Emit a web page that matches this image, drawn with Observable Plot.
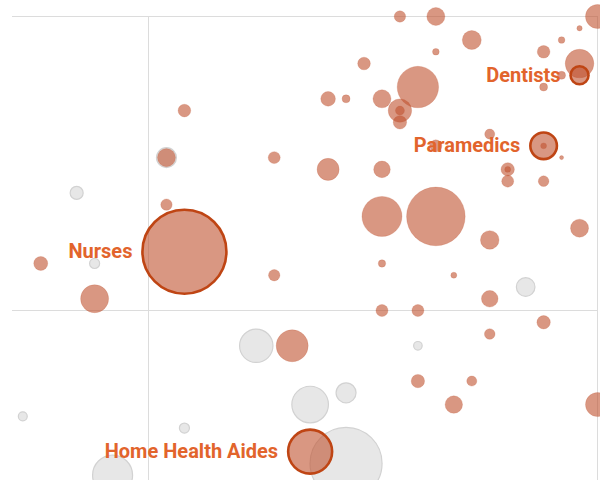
<!DOCTYPE html>
<html><head><meta charset="utf-8">
<script src="https://cdn.jsdelivr.net/npm/d3@7"></script>
<script src="https://cdn.jsdelivr.net/npm/@observablehq/plot@0.6"></script>
<style>body{margin:0;background:#fff;overflow:hidden}</style>
</head><body><div id="chart"></div>
<script>
// Health-care occupations (orange), exposure (x), proximity (y), workers in thousands (size)
const healthX    = [77,76,76,69,72,82,82,83,85,85,86,87,88,88,88,88,88,89,89,89,89,90,90,90,91,91,91,91,92,92,93,93,94,94,94,94,95,95,95,97,97,97,97,97,98,98,98,99,99,99,100,100];
const healthY    = [92,88,84,79,76,88,78,72,93,87,93,96,93,87,83,79,75,100,92,92,91,75,94,69,100,97,89,83,78,67,98,69,90,81,76,73,87,87,86,97,94,89,86,74,98,95,88,99,96,82,100,67];
const healthSize = [68,138,55,83,333,61,55,435,91,206,27,68,138,117,680,23,61,55,233,34,76,61,729,76,138,19,61,1460,15,129,153,43,43,147,117,48,76,15,61,68,27,15,48,76,19,27,7,12,348,138,245,245];

// Other occupations (grey)
const otherX    = [71,72,68,77,73,81,84,86,86,90,96,76];
const otherY    = [85,79,66,65,61,72,67,68,62,72,77,88];
const otherSize = [72,43,34,43,680,474,570,170,2204,31,147,170];

// Highlighted occupations
const labelNames = ["Nurses","Home Health Aides","Paramedics","Dentists"];
const labelX     = [77,84,97,99];
const labelY     = [80,63,89,95];
const labelSize  = [3000,823,301,138];

const health = healthX.map((x,i)=>({x, y: healthY[i], size: healthSize[i]}));
const other = otherX.map((x,i)=>({x, y: otherY[i], size: otherSize[i]}));
const labeled = labelNames.map((name,i)=>({name, x: labelX[i], y: labelY[i], size: labelSize[i]}));

const rDomain = [0, 3000], rRange = [0, 42];
const rS = d3.scaleSqrt().domain(rDomain).range(rRange);

const orange = "#c0522f";
const labelColor = "#e2642c";
const ringColor = "#bf4514";

const textMarks = labeled.map(d => Plot.text([d], {
  x: "x", y: "y", text: "name",
  textAnchor: "end", dx: -(rS(d.size) + 10),
  fill: labelColor, fontSize: 20, fontWeight: "bold",
  fontFamily: "Roboto, sans-serif"
}));

const chart = Plot.plot({
  width: 600, height: 480,
  marginLeft: 12, marginRight: 3, marginTop: 16, marginBottom: 0,
  x: {domain: [75, 100], range: [148, 597], axis: null},
  y: {domain: [75, 100], range: [310, 16], axis: null},
  r: {type: "sqrt", domain: rDomain, range: rRange},
  style: {background: "white", overflow: "hidden"},
  marks: [
    Plot.ruleX([75, 100], {stroke: "#dcdcdc", strokeWidth: 1}),
    Plot.ruleY([75, 100], {stroke: "#dcdcdc", strokeWidth: 1}),
    Plot.dot(other, {x: "x", y: "y", r: "size", fill: "#e4e4e4", fillOpacity: 0.9, stroke: "#d2d2d2", strokeWidth: 1.2}),
    Plot.dot(health, {x: "x", y: "y", r: "size", fill: orange, fillOpacity: 0.6, stroke: orange, strokeOpacity: 0.2, strokeWidth: 1}),
    Plot.dot(labeled, {x: "x", y: "y", r: "size", fill: orange, fillOpacity: 0.6, stroke: ringColor, strokeWidth: 2.6}),
    ...textMarks
  ]
});
document.getElementById("chart").appendChild(chart);
</script>
</body></html>
